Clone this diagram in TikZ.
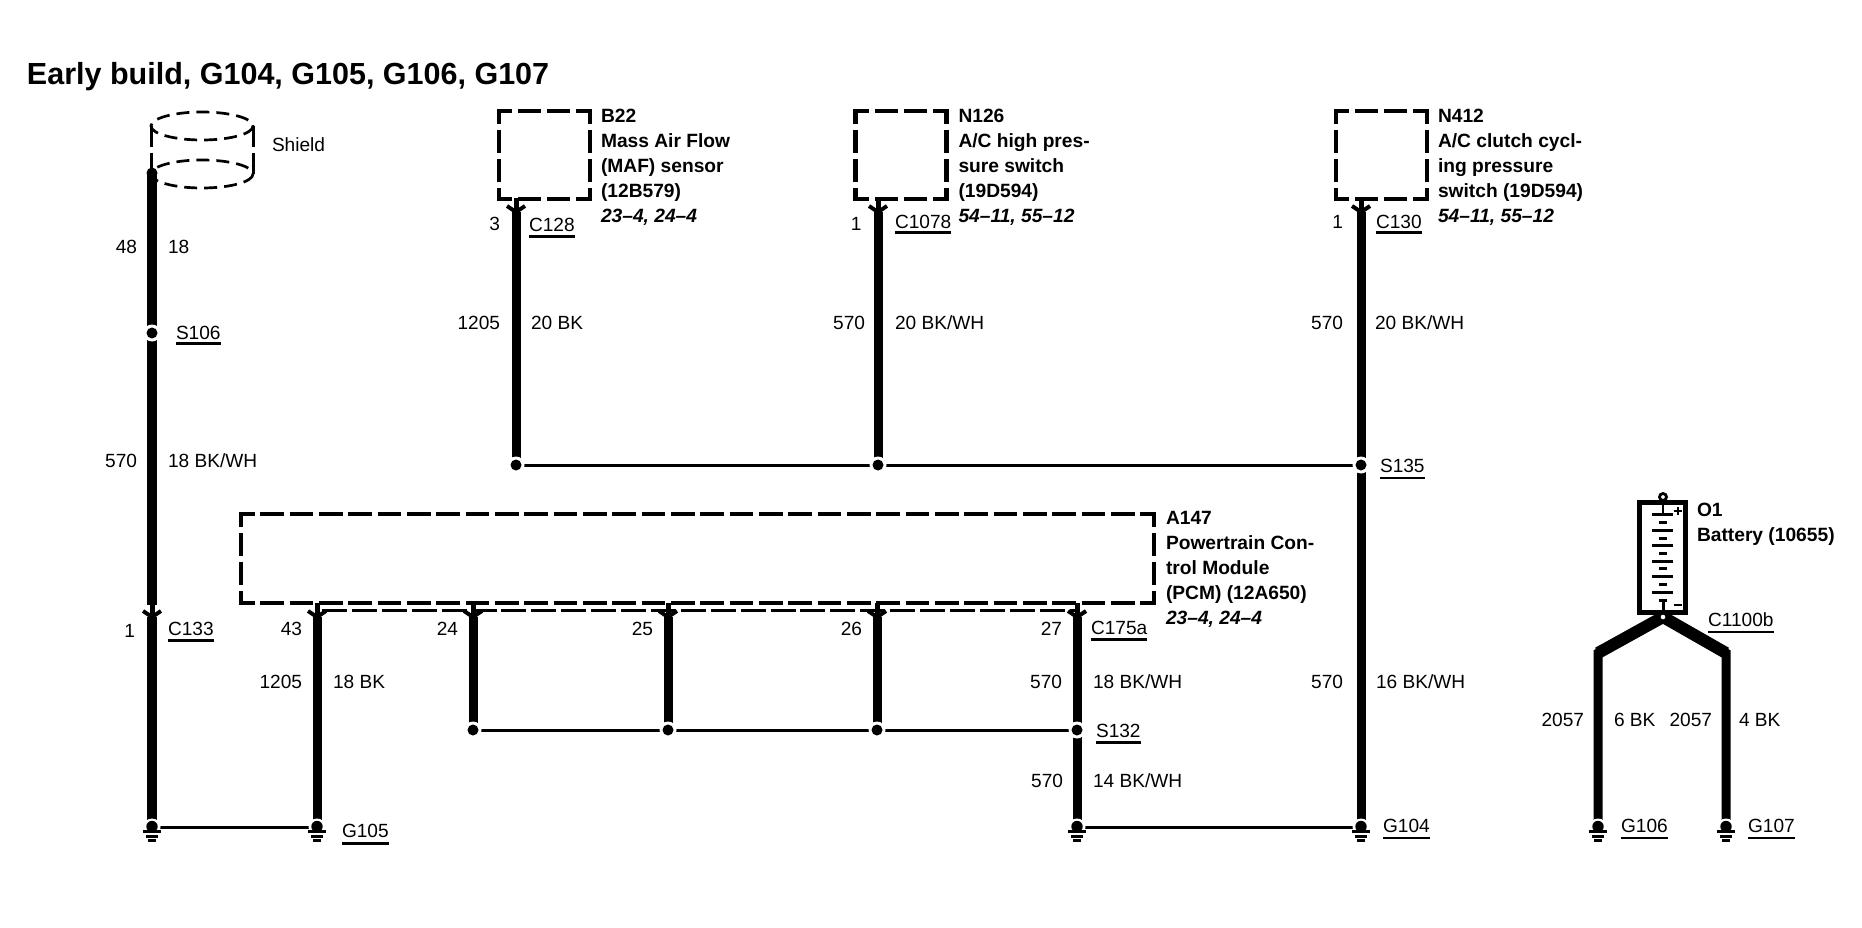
\documentclass[tikz,border=0pt]{standalone}
\usepackage{fontspec}
\setmainfont{Liberation Sans}
\newcommand\ulab[3][2.6]{\leavevmode\setbox0\hbox{#3}\rlap{\box0}\setbox0\hbox{#3}\rule[-#2pt]{\wd0}{#1pt}}
\tikzset{
  every node/.style={inner sep=0pt,outer sep=0pt},
  lbl/.style={font=\fontsize{19.1}{25}\selectfont,anchor=base west},
  lblr/.style={font=\fontsize{19.1}{25}\selectfont,anchor=base east},
  blk/.style={font=\fontsize{19.2}{25}\selectfont\bfseries,anchor=north west,align=left},
  wire/.style={line width=9pt,line cap=butt},
  thinwire/.style={line width=3pt},
  sidedash/.style={line width=4.7pt,line cap=rect,dash pattern=on 18.6pt off 10.4pt,dash phase=7.5pt},
  longdash/.style={line width=4.7pt,line cap=rect,dash pattern=on 18.93pt off 10.4pt,dash phase=7.5pt},
  shielddash/.style={line width=2.7pt,dash pattern=on 13pt off 7pt},
  wirepin/.pic={
    \draw[line width=5pt] (0,-14)--(0,0);
    \draw[line width=4pt,line join=miter] (-9,-6)--(0,0)--(9,-6);
  },
  splicedot/.pic={
    \fill[white] (0,0) circle (8.5);
    \fill (0,0) circle (5.5);
  },
  earthsym/.pic={
    \fill[white] (0,0) circle (8.5);
    \fill (0,-0.5) circle (5.7);
    \draw[line width=3.2pt] (-9,4.5)--(9,4.5);
    \draw[line width=3pt] (-5.7,9)--(5.7,9);
    \draw[line width=3pt] (-4,13.5)--(4,13.5);
  }
}
\begin{document}
\begin{tikzpicture}[x=1pt,y=-1pt]
\useasboundingbox (0,0) rectangle (1862,928);
% title
\node[font=\fontsize{30.5}{30}\selectfont\bfseries,anchor=base west] (title) at (27,85) {Early build, G104, G105, G106, G107};

% shield
\coordinate (shT) at (202,126);
\coordinate (shB) at (202,174);
\draw[shielddash] (shT) ellipse [x radius=51,y radius=14];
\draw[shielddash] (shB) ellipse [x radius=51,y radius=14];
\coordinate (shLa) at (151,126); \coordinate (shLb) at (151,147);
\coordinate (shLc) at (151,153); \coordinate (shLd) at (151,174);
\coordinate (shRa) at (253,126); \coordinate (shRb) at (253,147);
\coordinate (shRc) at (253,153); \coordinate (shRd) at (253,174);
\draw[line width=3pt] (shLa)--(shLb) (shLc)--(shLd) (shRa)--(shRb) (shRc)--(shRd);
\node[lbl] (shield) at (272,152) {Shield};

% dashed boxes
\node[minimum width=91pt,minimum height=88pt] (B22) at (544.5,155) {};
\node[minimum width=91pt,minimum height=88pt] (N126) at (901,155) {};
\node[minimum width=91pt,minimum height=88pt] (N412) at (1381.5,155) {};
\node[minimum width=913pt,minimum height=89pt] (A147) at (697.5,558.5) {};
\foreach \b in {B22,N126,N412}{
  \draw[sidedash] (\b.north west)--(\b.north east);
  \draw[sidedash] (\b.south west)--(\b.south east);
  \draw[sidedash] (\b.north west)--(\b.south west);
  \draw[sidedash] (\b.north east)--(\b.south east);
}
\draw[longdash] (A147.north west)--(A147.north east);
\draw[longdash] (A147.south west)--(A147.south east);
\draw[sidedash] (A147.north west)--(A147.south west);
\draw[sidedash] (A147.north east)--(A147.south east);
\coordinate (dashL) at (322,610.5);
\coordinate (dashR) at (1077,610.5);
\draw[line width=3pt,dash pattern=on 25pt off 4.9pt] (dashL)--(dashR);

% box labels
\node[blk] (tB22) at (601,109.3) {B22\\Mass Air Flow\\(MAF) sensor\\(12B579)\\{\itshape 23–4, 24–4}};
\node[blk] (tN126) at (958.5,109.3) {N126\\A/C high pres-\\sure switch\\(19D594)\\{\itshape 54–11, 55–12}};
\node[blk] (tN412) at (1438,109.3) {N412\\A/C clutch cycl-\\ing pressure\\switch (19D594)\\{\itshape 54–11, 55–12}};
\node[blk] (tA147) at (1166,511.3) {A147\\Powertrain Con-\\trol Module\\(PCM) (12A650)\\{\itshape 23–4, 24–4}};
\node[blk] (tO1) at (1697,503.3) {O1\\Battery (10655)};

% wire coordinates
\coordinate (aS) at (152,173); \coordinate (aC) at (152,605);
\coordinate (bC) at (152,617); \coordinate (g1) at (152,827);
\coordinate (s106) at (152,333);
\coordinate (p43) at (317,617); \coordinate (g105) at (317,827);
\coordinate (p24) at (473,617); \coordinate (d24) at (473,730);
\coordinate (p25) at (668,617); \coordinate (d25) at (668,730);
\coordinate (p26) at (877,617); \coordinate (d26) at (877,730);
\coordinate (p27) at (1077,617); \coordinate (s132) at (1077,730); \coordinate (g3) at (1077,827);
\coordinate (pB) at (516,212); \coordinate (dB) at (516,465);
\coordinate (pN) at (878,212); \coordinate (dN) at (878,465);
\coordinate (pR) at (1361,212); \coordinate (s135) at (1361,465); \coordinate (g104) at (1361,827);

% thin wires
\draw[thinwire] (g1)--(g105);
\draw[thinwire] (d24)--(s132);
\draw[thinwire] (dB)--(s135);
\draw[thinwire] (g3)--(g104);

% thick wires
\draw[wire,line width=10pt] (aS)--(aC);
\fill (aS) circle (5.5);
\draw[wire,line width=10pt] (bC)--(g1);
\draw[wire] (p43)--(g105);
\draw[wire] (p24)--(d24);
\draw[wire] (p25)--(d25);
\draw[wire] (p26)--(d26);
\draw[wire] (p27)--(g3);
\draw[wire] (pB)--(dB);
\draw[wire] (pN)--(dN);
\draw[wire] (pR)--(g104);

% connector pins
\foreach \c in {bC,p43,p24,p25,p26,p27,pB,pN,pR}{ \pic at (\c) {wirepin}; }
% splices
\foreach \c in {s106,d24,d25,d26,s132,dB,dN,s135}{ \pic at (\c) {splicedot}; }
% grounds
\foreach \c in {g1,g105,g3,g104}{ \pic at (\c) {earthsym}; }

% battery
\node[minimum width=46pt,minimum height=110pt,draw,line width=5pt] (O1) at (1662.5,557.5) {};
\coordinate (bTop) at (1663,497);
\coordinate (bP) at (1663,514);
\coordinate (bN) at (1663,610);
\coordinate (bJ) at (1663,617);
\draw[line width=2.8pt] (bTop)--(bP);
\draw[line width=2.8pt,fill=white] (bTop) circle (3.5);
\draw[line width=3pt] (1652,514)--(1673,514);
\foreach \y in {522.5,538,553.5,568.7,584.3}{ \draw[line width=3pt] (1659,\y)--(1667,\y); }
\foreach \y in {530.7,545.7,561,576.7,592.3}{ \draw[line width=3pt] (1652,\y)--(1673,\y); }
\draw[line width=3pt] (1658.5,600.5)--(1667,600.5);
\draw[line width=3pt] (1663,600.5)--(bN);
\draw[line width=2.8pt] (1674,511)--(1682,511) (1678,507)--(1678,515);
\draw[line width=2.8pt] (1673.5,605)--(1681.5,605);

\coordinate (gL) at (1598,653);
\coordinate (gR) at (1726,653);
\coordinate (g106) at (1598,827);
\coordinate (g107) at (1726,827);
\draw[wire,line join=miter] (g106)--(gL)--(bJ)--(gR)--(g107);
\draw[line width=12pt,line cap=butt] (gL)--(bJ)--(gR);
\fill[white] (bJ) circle (2.3);
\pic at (g106) {earthsym};
\pic at (g107) {earthsym};

% pin and wire labels
\node[lblr] (l48) at (137,253) {48};
\node[lbl] (l18) at (168,253) {18};
\node[lbl] (lS106) at (176,339) {\ulab{6}{S106}};
\node[lblr] (l570a) at (137,467) {570};
\node[lbl] (l18bw) at (168,467) {18 BK/WH};
\node[lblr] (l1a) at (135,637) {1};
\node[lbl] (lC133) at (168,635) {\ulab{7}{C133}};
\node[lblr] (l43) at (302,635) {43};
\node[lblr] (l1205a) at (302,688) {1205};
\node[lbl] (l18b) at (333,688) {18 BK};
\node[lbl] (lG105) at (342,837) {\ulab{8}{G105}};
\node[lblr] (l24) at (458,635) {24};
\node[lblr] (l25) at (653,635) {25};
\node[lblr] (l26) at (862,635) {26};
\node[lblr] (l27) at (1062,635) {27};
\node[lbl] (lC175) at (1091,634) {\ulab{7}{C175a}};
\node[lblr] (l570b) at (1062,688) {570};
\node[lbl] (l18bw2) at (1093,688) {18 BK/WH};
\node[lbl] (lS132) at (1096,737) {\ulab{7}{S132}};
\node[lblr] (l570c) at (1063,787) {570};
\node[lbl] (l14bw) at (1093,787) {14 BK/WH};
\node[lblr] (l570d) at (1343,688) {570};
\node[lbl] (l16bw) at (1376,688) {16 BK/WH};
\node[lbl] (lG104) at (1383,832) {\ulab[1.8]{7}{G104}};
\node[lbl] (lS135) at (1380,472) {\ulab[1.8]{7}{S135}};

\node[lblr] (l3) at (500,230) {3};
\node[lbl] (lC128) at (529,231) {\ulab{7}{C128}};
\node[lblr] (l1205b) at (500,329) {1205};
\node[lbl] (l20b) at (531,329) {20 BK};
\node[lblr] (l1b) at (861.5,230) {1};
\node[lbl] (lC1078) at (895,229) {\ulab{5}{C1078}};
\node[lblr] (l570e) at (865,329) {570};
\node[lbl] (l20bw) at (895,329) {20 BK/WH};
\node[lblr] (l1c) at (1343,229) {1};
\node[lbl] (lC130) at (1376,228) {\ulab{6}{C130}};
\node[lblr] (l570f) at (1343,329) {570};
\node[lbl] (l20bw2) at (1375,329) {20 BK/WH};

\node[lbl] (lC1100) at (1708,626) {\ulab[1.8]{7}{C1100b}};
\node[lblr] (l2057a) at (1584,726) {2057};
\node[lbl] (l6b) at (1614,726) {6 BK};
\node[lblr] (l2057b) at (1712,726) {2057};
\node[lbl] (l4b) at (1739,726) {4 BK};
\node[lbl] (lG106) at (1621,832) {\ulab[1.8]{7}{G106}};
\node[lbl] (lG107) at (1748,832) {\ulab[1.8]{7}{G107}};
\end{tikzpicture}
\end{document}
